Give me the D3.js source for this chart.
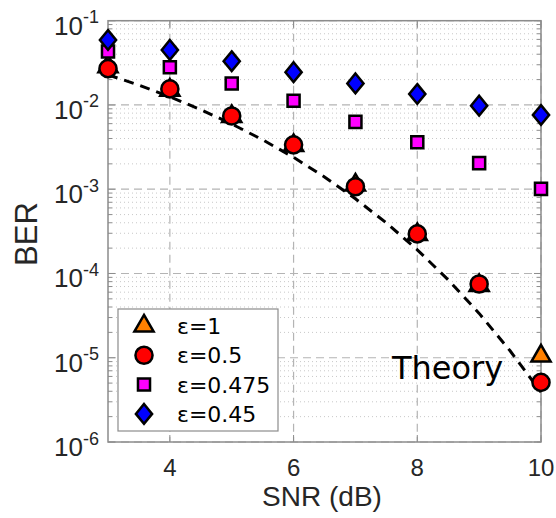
<!DOCTYPE html>
<html>
<head>
<meta charset="utf-8">
<script src="https://cdn.jsdelivr.net/npm/d3@7"></script>
<style>
  body { margin: 0; background: #fff; }
  svg { font-family: "Liberation Sans", Arial, sans-serif; }
</style>
</head>
<body>
<svg id="chart" width="556" height="518"></svg>
<script>
// data
let snr = [3, 4, 5, 6, 7, 8, 9, 10];
let berEps1 = [0.0285, 0.0150, 0.0073, 0.0033, 0.00112, 0.000290, 0.000072, 0.0000105];
let berEps05 = [0.0270, 0.0155, 0.0074, 0.00336, 0.00107, 0.000295, 0.000075, 0.0000051];
let berEps0475 = [0.043, 0.028, 0.018, 0.0112, 0.0063, 0.0036, 0.00204, 0.00101];
let berEps045 = [0.059, 0.045, 0.033, 0.0245, 0.018, 0.0135, 0.0098, 0.0076];
let theorySnr = [3, 3.5, 4, 4.5, 5, 5.5, 6, 6.5, 7, 7.5, 8, 8.5, 9, 9.5, 10];
let theoryBer = [0.0228, 0.0172, 0.0125, 0.0088, 0.00595, 0.00386, 0.00239, 0.0014,
                 0.00077, 0.000398, 0.000191, 0.000084, 0.0000336, 0.0000121, 0.0000039];
let xTicks = [4, 6, 8, 10];
let yExps = [-6, -5, -4, -3, -2, -1];
let legendLabels = ["ε=1", "ε=0.5", "ε=0.475", "ε=0.45"];

let svg = d3.select("#chart");
let pLeft = 108, pRight = 541, pTop = 20.7, pBottom = 442;

let x = d3.scaleLinear().domain([3, 10]).range([pLeft, pRight]);
let y = d3.scaleLog().domain([1e-6, 1e-1]).range([pBottom, pTop]);

// matlab-like diamond (wider than d3's)
let wideDiamond = {
    draw(ctx, size) {
        let h = Math.sqrt(size / 1.64), w = h * 0.82;
        ctx.moveTo(0, -h);
        ctx.lineTo(w, 0);
        ctx.lineTo(0, h);
        ctx.lineTo(-w, 0);
        ctx.closePath();
    }
};

// minor grid (dotted)
let minorVals = [];
yExps.slice(0, 5).forEach(e => {
    for (let k = 2; k <= 9; k++) minorVals.push(k * Math.pow(10, e));
});
svg.append("g").selectAll("line").data(minorVals).enter().append("line")
    .attr("x1", pLeft).attr("x2", pRight)
    .attr("y1", d => y(d)).attr("y2", d => y(d))
    .attr("stroke", "#c8c8c8").attr("stroke-width", 1)
    .attr("stroke-dasharray", "1,3");

// major grid (dashed)
svg.append("g").selectAll("line").data(yExps.map(e => Math.pow(10, e))).enter().append("line")
    .attr("x1", pLeft).attr("x2", pRight)
    .attr("y1", d => y(d)).attr("y2", d => y(d))
    .attr("stroke", "#b4b4b4").attr("stroke-width", 1.2)
    .attr("stroke-dasharray", "8,5");
svg.append("g").selectAll("line").data(xTicks).enter().append("line")
    .attr("x1", d => x(d)).attr("x2", d => x(d))
    .attr("y1", pTop).attr("y2", pBottom)
    .attr("stroke", "#b4b4b4").attr("stroke-width", 1.2)
    .attr("stroke-dasharray", "8,5");

// axis box
svg.append("rect").attr("x", pLeft).attr("y", pTop)
    .attr("width", pRight - pLeft).attr("height", pBottom - pTop)
    .attr("fill", "none").attr("stroke", "#8c8c8c").attr("stroke-width", 1.5);

// ticks
let tickG = svg.append("g").attr("stroke", "#8c8c8c").attr("stroke-width", 1);
minorVals.forEach(v => {
    tickG.append("line").attr("x1", pLeft).attr("x2", pLeft + 4).attr("y1", y(v)).attr("y2", y(v));
    tickG.append("line").attr("x1", pRight).attr("x2", pRight - 4).attr("y1", y(v)).attr("y2", y(v));
});
yExps.forEach(e => {
    let v = Math.pow(10, e);
    tickG.append("line").attr("x1", pLeft).attr("x2", pLeft + 7).attr("y1", y(v)).attr("y2", y(v));
    tickG.append("line").attr("x1", pRight).attr("x2", pRight - 7).attr("y1", y(v)).attr("y2", y(v));
});
xTicks.forEach(t => {
    tickG.append("line").attr("x1", x(t)).attr("x2", x(t)).attr("y1", pBottom).attr("y2", pBottom - 7);
    tickG.append("line").attr("x1", x(t)).attr("x2", x(t)).attr("y1", pTop).attr("y2", pTop + 7);
});

// tick labels
svg.append("g").selectAll("text").data(xTicks).enter().append("text")
    .attr("x", d => x(d)).attr("y", 476)
    .attr("text-anchor", "middle").attr("font-size", 24).attr("fill", "#262626")
    .text(d => d);

let yLab = svg.append("g").selectAll("text").data(yExps).enter().append("text")
    .attr("x", 99).attr("y", d => y(Math.pow(10, d)) + 14)
    .attr("text-anchor", "end").attr("font-size", 26).attr("fill", "#262626");
yLab.append("tspan").text("10");
yLab.append("tspan").attr("dy", -11.5).attr("font-size", 18).text(d => "-" + Math.abs(d));

// axis titles
svg.append("text").attr("x", 322).attr("y", 506)
    .attr("text-anchor", "middle").attr("font-size", 28).attr("fill", "#262626")
    .text("SNR (dB)");
svg.append("text").attr("transform", "translate(37,234) rotate(-90)")
    .attr("text-anchor", "middle").attr("font-size", 31).attr("fill", "#262626")
    .text("BER");

// theory curve
let line = d3.line().x(d => x(d[0])).y(d => y(d[1]));
svg.append("path").datum(d3.zip(theorySnr, theoryBer))
    .attr("d", line).attr("fill", "none")
    .attr("stroke", "#000").attr("stroke-width", 3)
    .attr("stroke-dasharray", "10,7");

// markers
let series = [
    { vals: berEps1, type: d3.symbolTriangle, size: 160, color: "#ff8000" },
    { vals: berEps05, type: d3.symbolCircle, size: 230, color: "#ff0000" },
    { vals: berEps0475, type: d3.symbolSquare, size: 145, color: "#ff00ff" },
    { vals: berEps045, type: wideDiamond, size: 160, color: "#0000ff" }
];

series.forEach(s => {
    svg.append("g").selectAll("path").data(d3.zip(snr, s.vals)).enter().append("path")
        .attr("d", d3.symbol().type(s.type).size(s.size))
        .attr("transform", d => "translate(" + x(d[0]) + "," + y(d[1]) + ")")
        .attr("fill", s.color).attr("stroke", "#000").attr("stroke-width", 2.5);
});

// theory label
svg.append("text").attr("x", 392).attr("y", 379)
    .attr("font-family", "DejaVu Sans")
    .attr("font-size", 32).attr("fill", "#000").text("Theory");

// legend
let lg = svg.append("g");
lg.append("rect").attr("x", 118).attr("y", 309).attr("width", 160).attr("height", 122)
    .attr("fill", "#fff").attr("stroke", "#8c8c8c").attr("stroke-width", 1.2);
series.forEach((s, i) => {
    let ly = 326 + i * 29.3;
    lg.append("path").attr("d", d3.symbol().type(s.type).size(s.size))
        .attr("transform", "translate(144," + ly + ")")
        .attr("fill", s.color).attr("stroke", "#000").attr("stroke-width", 2.5);
    lg.append("text").attr("x", 177).attr("y", ly + 8)
        .attr("font-family", "DejaVu Sans")
        .attr("font-size", 22).attr("fill", "#000").text(legendLabels[i]);
});
</script>
</body>
</html>
